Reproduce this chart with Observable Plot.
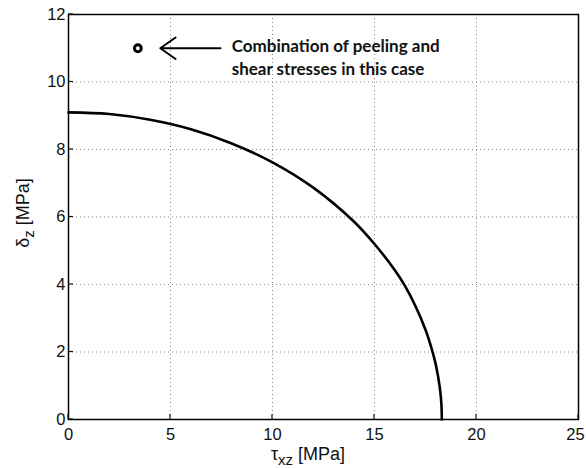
<!DOCTYPE html>
<html>
<head>
<meta charset="utf-8">
<script src="https://cdn.jsdelivr.net/npm/d3@7"></script>
<script src="https://cdn.jsdelivr.net/npm/@observablehq/plot@0.6"></script>
<style>
  body { margin: 0; background: #fff; }
  svg { display: block; }
</style>
</head>
<body>
<div id="chart"></div>
<script>
// Failure envelope
const curveX = [0, 2, 4, 6, 8, 10, 12, 14, 15, 16, 16.5, 17, 17.5, 17.8, 18, 18.2, 18.28, 18.3];
const curveY = [9.1, 9.05, 8.88, 8.6, 8.18, 7.62, 6.87, 5.86, 5.2, 4.42, 3.95, 3.37, 2.66, 2.1, 1.64, 0.95, 0.45, 0];

// Point: combination of stresses in this case
const pointX = [3.4];
const pointY = [11];

// Arrow annotation
const arrowFrom = [7.45];
const arrowTo = [4.5];
const arrowY = [11];
const noteLines = ["Combination of peeling and", "shear stresses in this case"];
const noteX = [8.0, 8.0];
const noteY = [11.05, 10.38];

const xTicks = [0, 5, 10, 15, 20, 25];
const xTicksInner = [0, 5, 10, 15, 20];
const xTicksLast = [25];
const yTicks = [0, 2, 4, 6, 8, 10, 12];
const xGrid = [5, 10, 15, 20];
const yGrid = [2, 4, 6, 8, 10];

const curve = curveX.map((x, i) => ({x, y: curveY[i]}));
const pts = pointX.map((x, i) => ({x, y: pointY[i]}));
const arrows = arrowFrom.map((x1, i) => ({x1, x2: arrowTo[i], y: arrowY[i]}));
const notes = noteLines.map((t, i) => ({t, x: noteX[i], y: noteY[i]}));

const plot = Plot.plot({
  width: 586,
  height: 468,
  marginLeft: 68,
  marginRight: 8,
  marginTop: 14,
  marginBottom: 49,
  style: {fontFamily: "Liberation Sans, Arial, sans-serif", fontSize: "16px", color: "#111", background: "#fff"},
  x: {type: "linear", domain: [0, 25], label: null},
  y: {type: "linear", domain: [0, 12], label: null},
  marks: [
    Plot.gridX(xGrid, {stroke: "#888", strokeOpacity: 1, strokeDasharray: "1,3", strokeWidth: 1}),
    Plot.gridY(yGrid, {stroke: "#888", strokeOpacity: 1, strokeDasharray: "1,3", strokeWidth: 1}),
    Plot.axisX(xTicksInner, {tickSize: 0, tickPadding: 9, fontSize: 16.5, tickFormat: d => String(d)}),
    Plot.axisX(xTicksLast, {tickSize: 0, tickPadding: 9, fontSize: 16.5, dx: -3, tickFormat: d => String(d)}),
    Plot.axisY(yTicks, {tickSize: 0, tickPadding: 3, fontSize: 16.5, tickFormat: d => String(d)}),
    Plot.line(curve, {x: "x", y: "y", stroke: "#000", strokeWidth: 2.6, curve: "catmull-rom"}),
    Plot.dot(pts, {x: "x", y: "y", r: 3.4, stroke: "#000", strokeWidth: 3, fill: "#fff"}),
    Plot.arrow(arrows, {x1: "x1", x2: "x2", y1: "y", y2: "y", stroke: "#000", strokeWidth: 2, headLength: 14, headAngle: 70}),
    Plot.text(notes, {x: "x", y: "y", text: "t", textAnchor: "start", fontWeight: "bold", fontSize: 17, fontFamily: "Lato, sans-serif", fill: "#111"}),
    Plot.frame({stroke: "#000", strokeWidth: 1.5})
  ]
});

document.getElementById("chart").appendChild(plot);

// inward tick marks and rich-text axis labels using the plot's scales
const svg = d3.select(plot);
const sx = plot.scale("x"), sy = plot.scale("y");
const y0 = sy.apply(0), x0 = sx.apply(0);
const tg = svg.append("g").attr("stroke", "#111").attr("stroke-width", 1.2);
xTicks.forEach(t => {
  const px = sx.apply(t);
  tg.append("line").attr("x1", px).attr("x2", px).attr("y1", y0).attr("y2", y0 - 5);
});
yTicks.forEach(t => {
  const py = sy.apply(t);
  tg.append("line").attr("x1", x0).attr("x2", x0 + 5).attr("y1", py).attr("y2", py);
});

const xl = svg.append("text")
  .attr("x", 308).attr("y", 460)
  .attr("text-anchor", "middle")
  .attr("font-family", "Liberation Sans, Arial, sans-serif")
  .attr("font-size", 18).attr("fill", "#111");
xl.append("tspan").text("τ");
xl.append("tspan").attr("dy", 5).attr("font-size", 15).text("xz");
xl.append("tspan").attr("dy", -5).text(" [MPa]");

const yl = svg.append("text")
  .attr("transform", `translate(29, 213) rotate(-90)`)
  .attr("text-anchor", "middle")
  .attr("font-family", "Liberation Sans, Arial, sans-serif")
  .attr("font-size", 18).attr("fill", "#111");
yl.append("tspan").text("δ");
yl.append("tspan").attr("dy", 5).attr("font-size", 15).text("z");
yl.append("tspan").attr("dy", -5).text(" [MPa]");
</script>
</body>
</html>
